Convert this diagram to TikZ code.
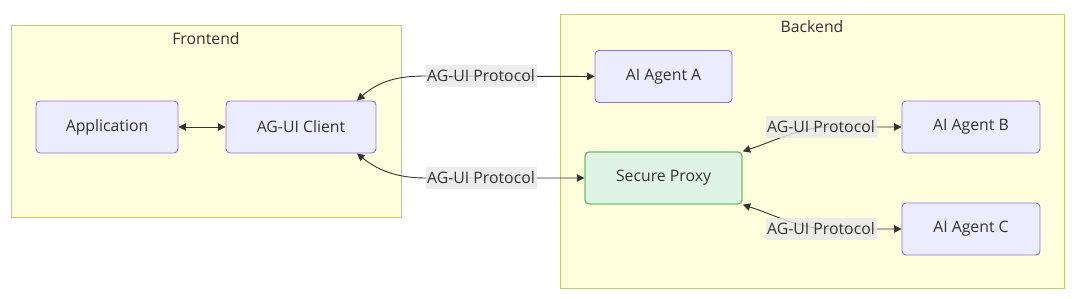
\documentclass[tikz,border=0pt]{standalone}
\usepackage{fontspec}
\setmainfont{Open Sans}
\usetikzlibrary{arrows.meta}
\definecolor{txt}{HTML}{333333}
\definecolor{nodefill}{HTML}{ECECFF}
\definecolor{nodedraw}{HTML}{9370DB}
\definecolor{clfill}{HTML}{FFFFDE}
\definecolor{cldraw}{HTML}{C8C86A}
\definecolor{pfill}{HTML}{E0F4E6}
\definecolor{pdraw}{HTML}{72BC6E}
\definecolor{lblfill}{HTML}{E8E8E8}
\begin{document}
\begin{tikzpicture}[x=1pt,y=-1pt,
  font=\fontsize{15.8}{18}\selectfont, text=txt,
  cluster/.style={draw=cldraw, fill=clfill, line width=1pt},
  agent/.style={draw=nodedraw, fill=nodefill, line width=0.9pt, rounded corners=4pt, minimum height=52pt, inner sep=0pt},
  proxy/.style={draw=pdraw, fill=pfill, line width=1.4pt, rounded corners=4pt, minimum height=52pt, inner sep=0pt},
  lbl/.style={fill=lblfill, fill opacity=0.8, text opacity=1, inner sep=0pt, minimum height=22pt, minimum width=111pt},
  bconn/.style={draw=txt, line width=0.9pt, {Triangle[length=7.5pt,width=7.5pt]}-{Triangle[length=7.5pt,width=7.5pt]}}
]
\useasboundingbox (0,0) rectangle (1080,299);
\fill[white] (0,0) rectangle (1080,299);
% clusters
\draw[cluster] (11,26) rectangle (401,218);
\node (fronttitle) at (206,39) {Frontend};
\draw[cluster] (560,15) rectangle (1064,289);
\node (backtitle) at (812,27) {Backend};
% nodes
\node[agent, minimum width=142pt] (app) at (107,127) {Application};
\node[agent, minimum width=150pt] (client) at (301,127) {AG-UI Client};
\node[agent, minimum width=137pt] (A) at (663.5,76.5) {AI Agent A};
\node[proxy, minimum width=157pt] (P) at (663.5,178) {Secure Proxy};
\node[agent, minimum width=138pt] (B) at (971,127) {AI Agent B};
\node[agent, minimum width=138pt] (C) at (971,229) {AI Agent C};
% anchor coordinates
\coordinate (c1) at ([xshift=56pt]client.north);
\coordinate (c2) at ([xshift=56pt]client.south);
\coordinate (p1) at (P.north east);
\coordinate (p2) at (P.south east);
\coordinate (l1) at (481,76);
\coordinate (l2) at (481,178);
\coordinate (l3) at (821,127);
\coordinate (l4) at (821,229);
% connectors
\draw[bconn] (app) -- (client);
\draw[bconn] (c1) .. controls (380,80) and (400,76) .. (426,76) -- (A.west);
\draw[bconn] (c2) .. controls (380,172) and (400,178) .. (426,178) -- (P.west);
\draw[bconn] (p1) .. controls (775,141) and (800,127) .. (830,127) -- (B.west);
\draw[bconn] (p2) .. controls (775,215) and (800,229) .. (830,229) -- (C.west);
% labels
\node[lbl] (lab1) at (l1) {AG-UI Protocol};
\node[lbl] (lab2) at (l2) {AG-UI Protocol};
\node[lbl] (lab3) at (l3) {AG-UI Protocol};
\node[lbl] (lab4) at (l4) {AG-UI Protocol};
\end{tikzpicture}
\end{document}
